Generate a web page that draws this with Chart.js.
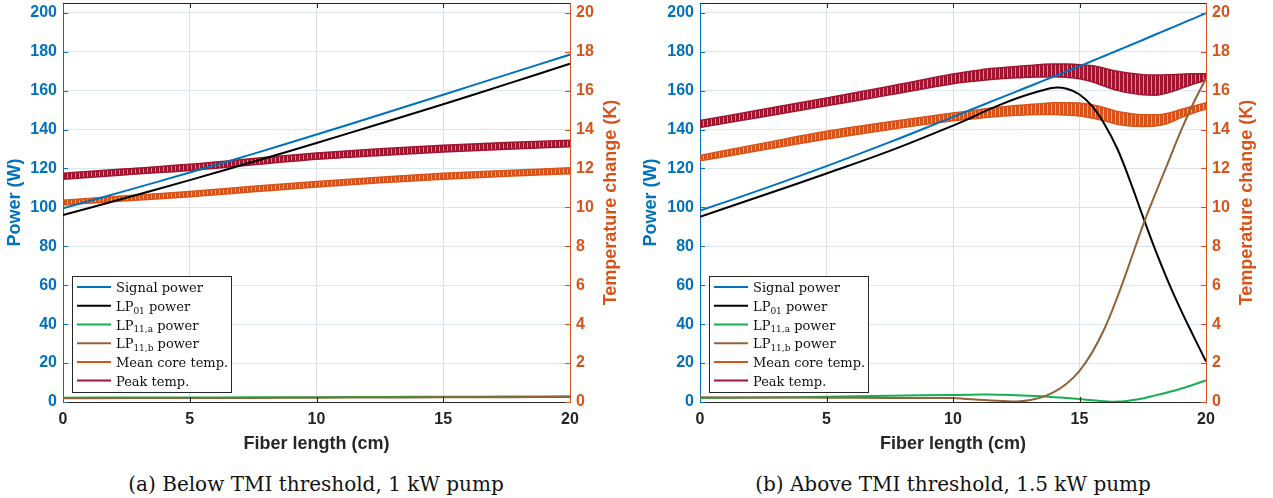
<!DOCTYPE html>
<html>
<head>
<meta charset="utf-8">
<script src="https://cdn.jsdelivr.net/npm/chart.js@4.4.1/dist/chart.umd.min.js"></script>
<style>
  body { margin: 0; background: #fff; width: 1273px; height: 498px; overflow: hidden; }
  .panel { position: absolute; top: 0; height: 498px; }
  .panel canvas { position: absolute; left: 0; top: 0; }
  .caption {
    position: absolute; top: 472px; transform: translateX(-50%);
    font: 20px "DejaVu Serif", serif; color: #111; white-space: nowrap;
  }
</style>
</head>
<body>
<div class="panel" style="left:0;width:636px">
  <canvas id="chartA" width="636" height="460"></canvas>
  <div class="caption" style="left:316px">(a) Below TMI threshold, 1 kW pump</div>
</div>
<div class="panel" style="left:636px;width:637px">
  <canvas id="chartB" width="637" height="460"></canvas>
  <div class="caption" style="left:317px">(b) Above TMI threshold, 1.5 kW pump</div>
</div>
<script>
// ---- axes ----
const lengthTicks = [0, 5, 10, 15, 20];
const powerTicks = [0, 20, 40, 60, 80, 100, 120, 140, 160, 180, 200];
const tempTicks = [0, 2, 4, 6, 8, 10, 12, 14, 16, 18, 20];

const legendLabels = [
  ["Signal power"],
  ["LP", "01", " power"],
  ["LP", "11,a", " power"],
  ["LP", "11,b", " power"],
  ["Mean core temp."],
  ["Peak temp."]
];

// ---- (a) 1 kW pump ----
const lengthA = [0, 2.5, 5, 7.5, 10, 12.5, 15, 17.5, 20];
const signalA = [99.5, 108.6, 117.9, 127.5, 137.4, 147.6, 157.9, 168.2, 178.5];
const lp01A = [96.0, 104.9, 114.0, 123.4, 133.1, 143.0, 153.0, 163.3, 173.8];
const lp11aA = [2.2, 2.3, 2.3, 2.4, 2.5, 2.6, 2.7, 2.8, 2.9];
const lp11bA = [1.9, 2.0, 2.0, 2.1, 2.2, 2.3, 2.4, 2.5, 2.6];
const meanTempA = [10.24, 10.47, 10.68, 10.94, 11.19, 11.41, 11.6, 11.75, 11.88];
const meanRippleA = [0.12, 0.13, 0.13, 0.14, 0.14, 0.14, 0.15, 0.15, 0.15];
const peakTempA = [11.6, 11.83, 12.05, 12.35, 12.63, 12.84, 13.02, 13.16, 13.28];
const peakRippleA = [0.15, 0.15, 0.16, 0.16, 0.16, 0.17, 0.17, 0.17, 0.17];

// ---- (b) 1.5 kW pump ----
const lengthB = [0, 2.5, 5, 7.5, 10, 10.5, 11, 11.5, 12, 12.5, 13, 13.5, 14, 14.5,
  15, 15.5, 16, 16.5, 17, 17.5, 18, 18.5, 19, 19.5, 20];
const signalB = [98.3, 109.5, 121.2, 133.5, 146.5, 149.1, 151.7, 154.3, 156.9, 159.5,
  162.1, 164.7, 167.3, 169.9, 172.5, 175.2, 177.9, 180.6, 183.3, 186.0, 188.8, 191.5,
  194.3, 197.0, 199.8];
const lp01B = [95.2, 106.2, 117.4, 129.0, 142.0, 144.8, 147.8, 150.7, 153.4, 155.9,
  158.1, 160.0, 161.5, 160.9, 158.0, 152.0, 142.5, 130.0, 113.5, 95.5, 78.0, 62.0,
  47.5, 34.0, 20.8];
const lp11aB = [2.0, 2.3, 2.7, 3.2, 3.6, 3.7, 3.8, 3.8, 3.7, 3.5, 3.2, 2.9, 2.5, 2.0,
  1.5, 0.9, 0.4, 0.2, 0.8, 1.8, 3.4, 5.0, 6.8, 8.9, 11.1];
const lp11bB = [2.4, 2.3, 2.2, 2.1, 2.0, 1.6, 1.2, 0.8, 0.5, 0.3, 0.9, 2.4, 5.2, 9.5,
  16.0, 25.5, 38.0, 54.0, 72.0, 90.5, 107.0, 123.0, 139.0, 153.5, 166.2];
const meanTempB = [12.53, 13.13, 13.71, 14.2, 14.65, 14.72, 14.8, 14.87, 14.93, 14.98,
  15.02, 15.05, 15.07, 15.06, 15.03, 14.93, 14.78, 14.6, 14.5, 14.46, 14.47, 14.58,
  14.82, 15.03, 15.21];
const meanRippleB = [0.14, 0.17, 0.2, 0.2, 0.2, 0.21, 0.22, 0.23, 0.24, 0.25, 0.26,
  0.28, 0.3, 0.32, 0.33, 0.34, 0.34, 0.33, 0.32, 0.3, 0.29, 0.26, 0.21, 0.18, 0.16];
const peakTempB = [14.28, 14.85, 15.42, 16.0, 16.6, 16.7, 16.78, 16.85, 16.9, 16.95,
  16.99, 17.02, 17.04, 17.02, 16.97, 16.86, 16.68, 16.5, 16.38, 16.3, 16.28, 16.35,
  16.47, 16.6, 16.7];
const peakRippleB = [0.18, 0.19, 0.2, 0.22, 0.25, 0.26, 0.27, 0.28, 0.28, 0.29, 0.3,
  0.32, 0.33, 0.34, 0.36, 0.41, 0.46, 0.49, 0.51, 0.52, 0.52, 0.46, 0.37, 0.27, 0.16];

const colors = {
  signal: "#0072bd",
  lp01: "#000000",
  lp11a: "#12b050",
  lp11b: "#946236",
  mean: "#d95319",
  peak: "#a2142f",
  axis: "#262626"
};
const legendColors = [colors.signal, colors.lp01, colors.lp11a, colors.lp11b, colors.mean, colors.peak];

const SANS = '"Liberation Sans", Arial, sans-serif';
const SERIF = '"DejaVu Serif", serif';
Chart.defaults.font.family = SANS;

const points = (xs, ys) => xs.map((x, i) => ({ x, y: ys[i] }));

// vertical stripes so the wide temperature ripple reads as a dense oscillation
function stripes(color) {
  const c = document.createElement("canvas");
  c.width = 4;
  c.height = 1;
  const g = c.getContext("2d");
  g.fillStyle = color;
  g.fillRect(0, 0, 3, 1);
  g.globalAlpha = 0.5;
  g.fillRect(3, 0, 1, 1);
  return g.createPattern(c, "repeat");
}

// later power curves sit on top of earlier ones, all of them above the temperature bands
function powerLine(xs, ys, color, order) {
  return {
    data: points(xs, ys),
    borderColor: color,
    borderWidth: 2,
    pointRadius: 0,
    tension: 0.4,
    fill: false,
    order,
    yAxisID: "y"
  };
}

// ripple envelope: upper edge, then lower edge filled back up to it
function tempBand(xs, mid, ripple, color, upperIndex, order) {
  const edge = {
    borderColor: color,
    borderWidth: 1.5,
    pointRadius: 0,
    cubicInterpolationMode: "monotone",
    order,
    yAxisID: "y2"
  };
  return [
    { ...edge, data: points(xs, mid.map((v, i) => v + ripple[i])), fill: false },
    { ...edge, data: points(xs, mid.map((v, i) => v - ripple[i])),
      fill: { target: upperIndex }, backgroundColor: stripes(color) }
  ];
}

const axesDecor = {
  id: "axesDecor",
  afterDraw(chart) {
    const { ctx, chartArea: ca, scales } = chart;
    const tick = 5;
    ctx.save();
    ctx.lineWidth = 1;
    // top edge of the box
    ctx.strokeStyle = colors.axis;
    ctx.beginPath();
    ctx.moveTo(ca.left, ca.top + 0.5);
    ctx.lineTo(ca.right, ca.top + 0.5);
    ctx.stroke();
    ctx.beginPath();
    lengthTicks.slice(1, -1).forEach(v => {
      const x = Math.round(scales.x.getPixelForValue(v)) + 0.5;
      ctx.moveTo(x, ca.top); ctx.lineTo(x, ca.top + tick);
      ctx.moveTo(x, ca.bottom); ctx.lineTo(x, ca.bottom - tick);
    });
    ctx.stroke();
    ctx.strokeStyle = colors.signal;
    ctx.beginPath();
    powerTicks.forEach(v => {
      const y = Math.round(scales.y.getPixelForValue(v)) + 0.5;
      ctx.moveTo(ca.left, y); ctx.lineTo(ca.left + tick, y);
    });
    ctx.stroke();
    ctx.strokeStyle = colors.mean;
    ctx.beginPath();
    tempTicks.forEach(v => {
      const y = Math.round(scales.y2.getPixelForValue(v)) + 0.5;
      ctx.moveTo(ca.right, y); ctx.lineTo(ca.right - tick, y);
    });
    ctx.stroke();

    // right axis title, reading bottom to top like the left one
    ctx.fillStyle = colors.mean;
    ctx.font = "bold 18px " + SANS;
    ctx.textAlign = "center";
    ctx.textBaseline = "middle";
    ctx.translate(ca.right + 41, (ca.top + ca.bottom) / 2);
    ctx.rotate(-Math.PI / 2);
    ctx.fillText("Temperature change (K)", 0, 0);
    ctx.restore();

    // legend box
    const left = Math.round(ca.left + 9) + 0.5;
    const top = Math.round(ca.bottom - 126) + 0.5;
    ctx.save();
    ctx.fillStyle = "#fff";
    ctx.fillRect(left, top, 159, 116);
    ctx.strokeStyle = colors.axis;
    ctx.lineWidth = 1;
    ctx.strokeRect(left, top, 159, 116);
    legendLabels.forEach((parts, i) => {
      const y = top + 10.6 + i * 18.7;
      ctx.strokeStyle = legendColors[i];
      ctx.lineWidth = 2;
      ctx.beginPath();
      ctx.moveTo(left + 4.5, y);
      ctx.lineTo(left + 38.5, y);
      ctx.stroke();
      ctx.fillStyle = "#111";
      ctx.textBaseline = "alphabetic";
      let x = left + 43.5;
      parts.forEach((p, k) => {
        const sub = parts.length === 3 && k === 1;
        ctx.font = (sub ? "9px " : "13px ") + SERIF;
        ctx.fillText(p, x, y + 5 + (sub ? 2.7 : 0));
        x += ctx.measureText(p).width;
      });
    });
    ctx.restore();
  }
};

function makeChart(id, datasets, leftWidth, rightWidth) {
  const tickFont = { family: SANS, size: 16, weight: "bold" };
  const titleFont = { family: SANS, size: 18, weight: "bold" };
  const noVPad = s => { s.paddingTop = 0; s.paddingBottom = 0; };
  return new Chart(document.getElementById(id), {
    type: "line",
    data: { datasets },
    options: {
      responsive: false,
      animation: false,
      devicePixelRatio: 1,
      layout: { padding: { top: 3 } },
      plugins: { legend: { display: false }, tooltip: { enabled: false } },
      scales: {
        x: {
          type: "linear",
          min: 0,
          max: 20,
          afterBuildTicks: s => { s.ticks = lengthTicks.map(value => ({ value })); },
          afterFit: s => { s.height = 58; s.paddingLeft = 0; s.paddingRight = 0; },
          ticks: { color: colors.axis, font: tickFont, padding: 8, maxRotation: 0 },
          grid: { color: "#dedfe1", drawTicks: false },
          border: { color: colors.axis },
          title: {
            display: true, text: "Fiber length (cm)", color: colors.axis,
            font: titleFont, padding: { top: 0, bottom: 5 }
          }
        },
        y: {
          position: "left",
          min: 0,
          max: 205,
          afterBuildTicks: s => { s.ticks = powerTicks.map(value => ({ value })); },
          afterFit: s => { s.width = leftWidth; noVPad(s); },
          ticks: { color: colors.signal, font: tickFont, padding: 6 },
          grid: { color: "#d8e7f2", drawTicks: false },
          border: { color: colors.signal },
          title: {
            display: true, text: "Power (W)", color: colors.signal,
            font: titleFont, padding: { top: 4, bottom: 0 }
          }
        },
        y2: {
          position: "right",
          min: 0,
          max: 20.5,
          afterBuildTicks: s => { s.ticks = tempTicks.map(value => ({ value })); },
          afterFit: s => { s.width = rightWidth; noVPad(s); },
          ticks: { color: colors.mean, font: tickFont, padding: 6 },
          grid: { display: false, drawTicks: false },
          border: { color: colors.mean }
        }
      }
    },
    plugins: [axesDecor]
  });
}

makeChart("chartA", [
  powerLine(lengthA, signalA, colors.signal, 4),
  powerLine(lengthA, lp01A, colors.lp01, 3),
  powerLine(lengthA, lp11aA, colors.lp11a, 2),
  powerLine(lengthA, lp11bA, colors.lp11b, 1),
  ...tempBand(lengthA, meanTempA, meanRippleA, colors.mean, 4, 6),
  ...tempBand(lengthA, peakTempA, peakRippleA, colors.peak, 6, 5)
], 63, 66);

makeChart("chartB", [
  powerLine(lengthB, signalB, colors.signal, 4),
  powerLine(lengthB, lp01B, colors.lp01, 3),
  powerLine(lengthB, lp11aB, colors.lp11a, 2),
  powerLine(lengthB, lp11bB, colors.lp11b, 1),
  ...tempBand(lengthB, meanTempB, meanRippleB, colors.mean, 4, 6),
  ...tempBand(lengthB, peakTempB, peakRippleB, colors.peak, 6, 5)
], 64, 67);
</script>
</body>
</html>
